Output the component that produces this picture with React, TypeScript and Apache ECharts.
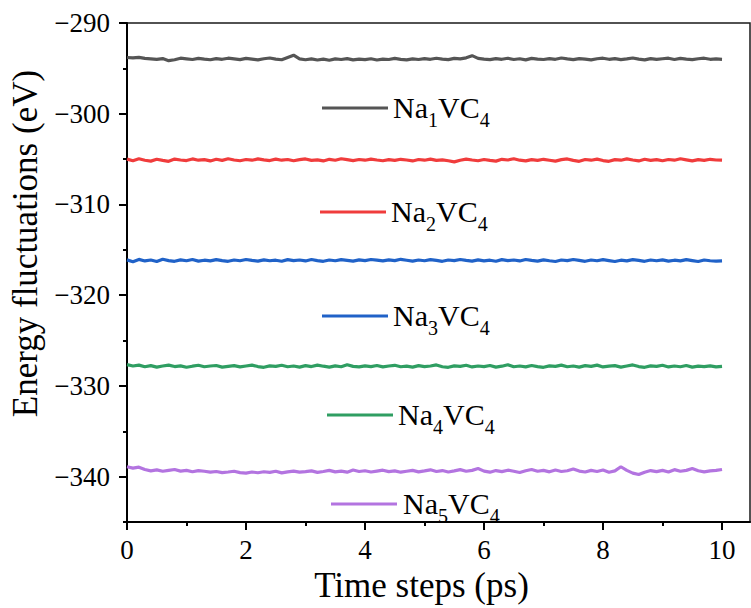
import React, { useEffect, useRef } from "react";
import * as echarts from "echarts";

const TIME_STEP_PS = 0.1;

const na1: number[] = [
  -293.80, -293.85, -293.78, -293.90, -293.95, -294.00, -293.92, -294.15, -294.05, -293.88,
  -293.95, -294.02, -293.90, -293.98, -294.05, -293.92, -294.00, -293.88, -293.96, -294.04,
  -293.90, -293.98, -294.06, -293.94, -293.86, -293.98, -294.05, -293.80, -293.55, -293.95,
  -294.05, -293.96, -294.08, -293.98, -294.10, -293.95, -294.02, -293.92, -294.06, -293.98,
  -294.04, -293.94, -294.08, -293.98, -294.02, -293.90, -294.00, -294.06, -293.95, -294.02,
  -293.92, -294.00, -293.88, -293.98, -294.04, -293.90, -293.96, -293.84, -293.60, -293.90,
  -293.98, -294.04, -293.92, -294.00, -293.88, -294.02, -293.94, -294.06, -293.90, -293.98,
  -294.02, -293.92, -294.00, -293.86, -293.96, -294.04, -293.92, -293.98, -294.06, -293.94,
  -293.88, -294.00, -293.92, -294.04, -293.96, -293.86, -293.98, -294.06, -293.92, -294.00,
  -293.94, -293.88, -294.02, -293.90, -293.98, -294.04, -293.94, -293.88, -294.00, -293.96,
  -294.00,
];

const na2: number[] = [
  -305.00, -305.18, -304.96, -305.12, -305.22, -305.02, -305.14, -305.24, -305.00, -305.10,
  -305.16, -304.98, -305.12, -305.06, -305.20, -305.02, -305.14, -304.96, -305.10, -305.18,
  -305.04, -305.12, -304.98, -305.08, -305.16, -305.00, -305.12, -305.04, -305.18, -305.06,
  -304.98, -305.14, -305.08, -305.20, -305.02, -305.12, -304.96, -305.06, -305.16, -305.04,
  -305.12, -305.00, -305.10, -305.18, -305.06, -305.14, -305.02, -305.10, -305.20, -305.04,
  -305.12, -305.00, -305.14, -305.08, -305.18, -305.30, -305.12, -305.00, -305.10, -305.18,
  -305.04, -305.14, -305.22, -305.02, -305.10, -304.96, -305.12, -305.20, -305.06, -305.14,
  -305.02, -305.12, -305.22, -305.06, -304.98, -305.14, -305.24, -305.04, -305.12, -305.00,
  -305.16, -305.24, -305.06, -305.12, -304.98, -305.10, -305.20, -305.02, -305.14, -305.06,
  -305.18, -305.04, -305.12, -304.96, -305.08, -305.20, -305.06, -305.14, -305.02, -305.10,
  -305.12,
];

const na3: number[] = [
  -316.10, -316.30, -316.05, -316.22, -316.12, -316.28, -316.04, -316.18, -316.26, -316.10,
  -316.20, -316.06, -316.24, -316.14, -316.22, -316.08, -316.18, -316.26, -316.12, -316.20,
  -316.06, -316.16, -316.24, -316.10, -316.20, -316.14, -316.26, -316.08, -316.18, -316.12,
  -316.22, -316.06, -316.18, -316.26, -316.12, -316.20, -316.08, -316.16, -316.24, -316.10,
  -316.18, -316.06, -316.14, -316.22, -316.10, -316.18, -316.04, -316.14, -316.24, -316.12,
  -316.20, -316.08, -316.16, -316.26, -316.12, -316.18, -316.06, -316.16, -316.24, -316.10,
  -316.22, -316.14, -316.26, -316.08, -316.18, -316.12, -316.22, -316.06, -316.16, -316.24,
  -316.10, -316.20, -316.28, -316.12, -316.18, -316.06, -316.16, -316.26, -316.12, -316.20,
  -316.08, -316.18, -316.28, -316.14, -316.22, -316.08, -316.16, -316.26, -316.12, -316.20,
  -316.10, -316.24, -316.14, -316.22, -316.08, -316.18, -316.28, -316.12, -316.20, -316.24,
  -316.22,
];

const na4: number[] = [
  -327.65, -327.80, -327.70, -327.88, -327.76, -327.92, -327.80, -327.70, -327.86, -327.78,
  -327.94, -327.82, -327.72, -327.88, -327.80, -327.74, -327.92, -327.84, -327.76, -327.90,
  -327.80, -327.70, -327.86, -327.94, -327.78, -327.84, -327.72, -327.88, -327.80, -327.92,
  -327.76, -327.86, -327.70, -327.82, -327.92, -327.78, -327.88, -327.66, -327.84, -327.90,
  -327.78, -327.86, -327.74, -327.90, -327.80, -327.72, -327.88, -327.82, -327.92, -327.76,
  -327.86, -327.80, -327.68, -327.88, -327.94, -327.78, -327.84, -327.72, -327.90, -327.80,
  -327.86, -327.74, -327.92, -327.82, -327.66, -327.88, -327.80, -327.90, -327.74, -327.86,
  -327.94, -327.78, -327.84, -327.70, -327.88, -327.80, -327.92, -327.76, -327.84, -327.70,
  -327.90, -327.82, -327.76, -327.92, -327.80, -327.68, -327.86, -327.94, -327.78, -327.84,
  -327.72, -327.90, -327.80, -327.88, -327.74, -327.92, -327.82, -327.86, -327.78, -327.90,
  -327.84,
];

const na5: number[] = [
  -338.90, -339.05, -338.95, -339.20, -339.35, -339.25, -339.40, -339.30, -339.20, -339.38,
  -339.30, -339.45, -339.32, -339.40, -339.50, -339.42, -339.55, -339.48, -339.40, -339.55,
  -339.60, -339.48, -339.56, -339.45, -339.52, -339.40, -339.58, -339.46, -339.38, -339.50,
  -339.44, -339.36, -339.52, -339.42, -339.30, -339.46, -339.38, -339.50, -339.26, -339.42,
  -339.34, -339.48, -339.38, -339.28, -339.44, -339.36, -339.50, -339.40, -339.30, -339.46,
  -339.36, -339.24, -339.42, -339.32, -339.48, -339.36, -339.22, -339.40, -339.30, -339.10,
  -339.38, -339.50, -339.32, -339.44, -339.28, -339.40, -339.54, -339.34, -339.20, -339.40,
  -339.30, -339.46, -339.26, -339.42, -339.34, -339.14, -339.38, -339.48, -339.30, -339.42,
  -339.26, -339.50, -339.36, -338.90, -339.30, -339.60, -339.76, -339.50, -339.32, -339.44,
  -339.30, -339.48, -339.22, -339.40, -339.30, -339.10, -339.34, -339.46, -339.36, -339.30,
  -339.20,
];

const seriesNames = ["Na1VC4", "Na2VC4", "Na3VC4", "Na4VC4", "Na5VC4"];
const seriesIndexDigits = ["1", "2", "3", "4", "5"];
const seriesData = [na1, na2, na3, na4, na5];
const seriesColors = ["#555555", "#f03c3c", "#2062c8", "#2f9e62", "#b374e0"];

const xMajorTicks = [0, 2, 4, 6, 8, 10];
const xMinorTicks = [1, 3, 5, 7, 9];
const yMajorTicks = [-340, -330, -320, -310, -300, -290];
const yMinorTicks = [-345, -335, -325, -315, -305, -295];

// legend placement (layout only): [lineStartX, lineEndX, y, textX]
const legendLayout = [
  [322, 388, 108, 393],
  [320, 386, 212, 391],
  [322, 388, 316, 393],
  [327, 393, 415, 398],
  [331, 397, 504, 403],
];

const FONT = "'Liberation Serif', 'Times New Roman', serif";

export default function App() {
  const ref = useRef<HTMLDivElement>(null);

  useEffect(() => {
    if (!ref.current) return;
    const chart = echarts.init(ref.current, null, { renderer: "svg" });

    const fmtMinus = (v: number) => String(v).replace("-", "\u2212");

    const graphics: any[] = [];
    legendLayout.forEach((l, i) => {
      graphics.push({
        type: "line",
        shape: { x1: l[0], y1: l[2], x2: l[1], y2: l[2] },
        style: { stroke: seriesColors[i], lineWidth: 3 },
        z: 100,
      });
      graphics.push({
        type: "text",
        x: l[3],
        y: l[2] - 16,
        z: 100,
        style: {
          text: `{n|Na}{s|${seriesIndexDigits[i]}}{n|VC}{s|4}`,
          verticalAlign: "top",
          align: "left",
          fill: "#000",
          rich: {
            n: { fontSize: 30, fontFamily: FONT, lineHeight: 34, verticalAlign: "top", fill: "#000" },
            s: {
              fontSize: 20,
              fontFamily: FONT,
              lineHeight: 20,
              padding: [18, 0, 0, 0],
              verticalAlign: "top",
              fill: "#000",
            },
          },
        },
      });
    });

    const option: any = {
      animation: false,
      backgroundColor: "#ffffff",
      grid: {
        left: 127,
        right: 1,
        top: 23,
        bottom: 81,
        show: true,
        borderColor: "#1a1a1a",
        borderWidth: 1.5,
        containLabel: false,
      },
      xAxis: [
        {
          type: "value",
          min: 0,
          max: 10.47,
          interval: 2,
          position: "bottom",
          axisLine: { show: true, onZero: false, lineStyle: { color: "#000", width: 2 } },
          axisTick: { show: true, length: 8, customValues: xMajorTicks, lineStyle: { color: "#000", width: 2 } },
          axisLabel: {
            customValues: xMajorTicks,
            fontSize: 27,
            fontFamily: FONT,
            color: "#000",
            margin: 14,
          },
          splitLine: { show: false },
          name: "Time steps (ps)",
          nameLocation: "middle",
          nameGap: 36,
          nameTextStyle: { fontSize: 35, fontFamily: FONT, color: "#000", padding: [0, 34, 0, 0] },
        },
        {
          type: "value",
          min: 0,
          max: 10.47,
          position: "bottom",
          offset: 0,
          axisLine: { show: false },
          axisTick: { show: true, length: 4, customValues: xMinorTicks, lineStyle: { color: "#000", width: 2 } },
          axisLabel: { show: false },
          splitLine: { show: false },
        },
      ],
      yAxis: [
        {
          type: "value",
          min: -345,
          max: -290,
          position: "left",
          axisLine: { show: true, onZero: false, lineStyle: { color: "#000", width: 2 } },
          axisTick: { show: true, length: 8, customValues: yMajorTicks, lineStyle: { color: "#000", width: 2 } },
          axisLabel: {
            customValues: yMajorTicks,
            formatter: fmtMinus,
            fontSize: 27,
            fontFamily: FONT,
            color: "#000",
            margin: 17,
          },
          splitLine: { show: false },
          name: "Energy fluctuations (eV)",
          nameLocation: "middle",
          nameGap: 80,
          nameTextStyle: { fontSize: 35, fontFamily: FONT, color: "#000", padding: [0, 0, 0, 58] },
        },
        {
          type: "value",
          min: -345,
          max: -290,
          position: "left",
          offset: 0,
          axisLine: { show: false },
          axisTick: { show: true, length: 4, customValues: yMinorTicks, lineStyle: { color: "#000", width: 2 } },
          axisLabel: { show: false },
          splitLine: { show: false },
        },
      ],
      series: seriesData.map((vals, i) => ({
        name: seriesNames[i],
        type: "line",
        xAxisIndex: 0,
        yAxisIndex: 0,
        showSymbol: false,
        symbol: "none",
        lineStyle: { color: seriesColors[i], width: 3.2 },
        itemStyle: { color: seriesColors[i] },
        data: vals.map((v, k) => [Number((k * TIME_STEP_PS).toFixed(2)), v]),
      })),
      graphic: graphics,
    };

    chart.setOption(option);
    return () => {
      chart.dispose();
    };
  }, []);

  return (
    <div
      ref={ref}
      style={{ position: "fixed", left: 0, top: 0, width: 751, height: 608, background: "#fff" }}
    />
  );
}
